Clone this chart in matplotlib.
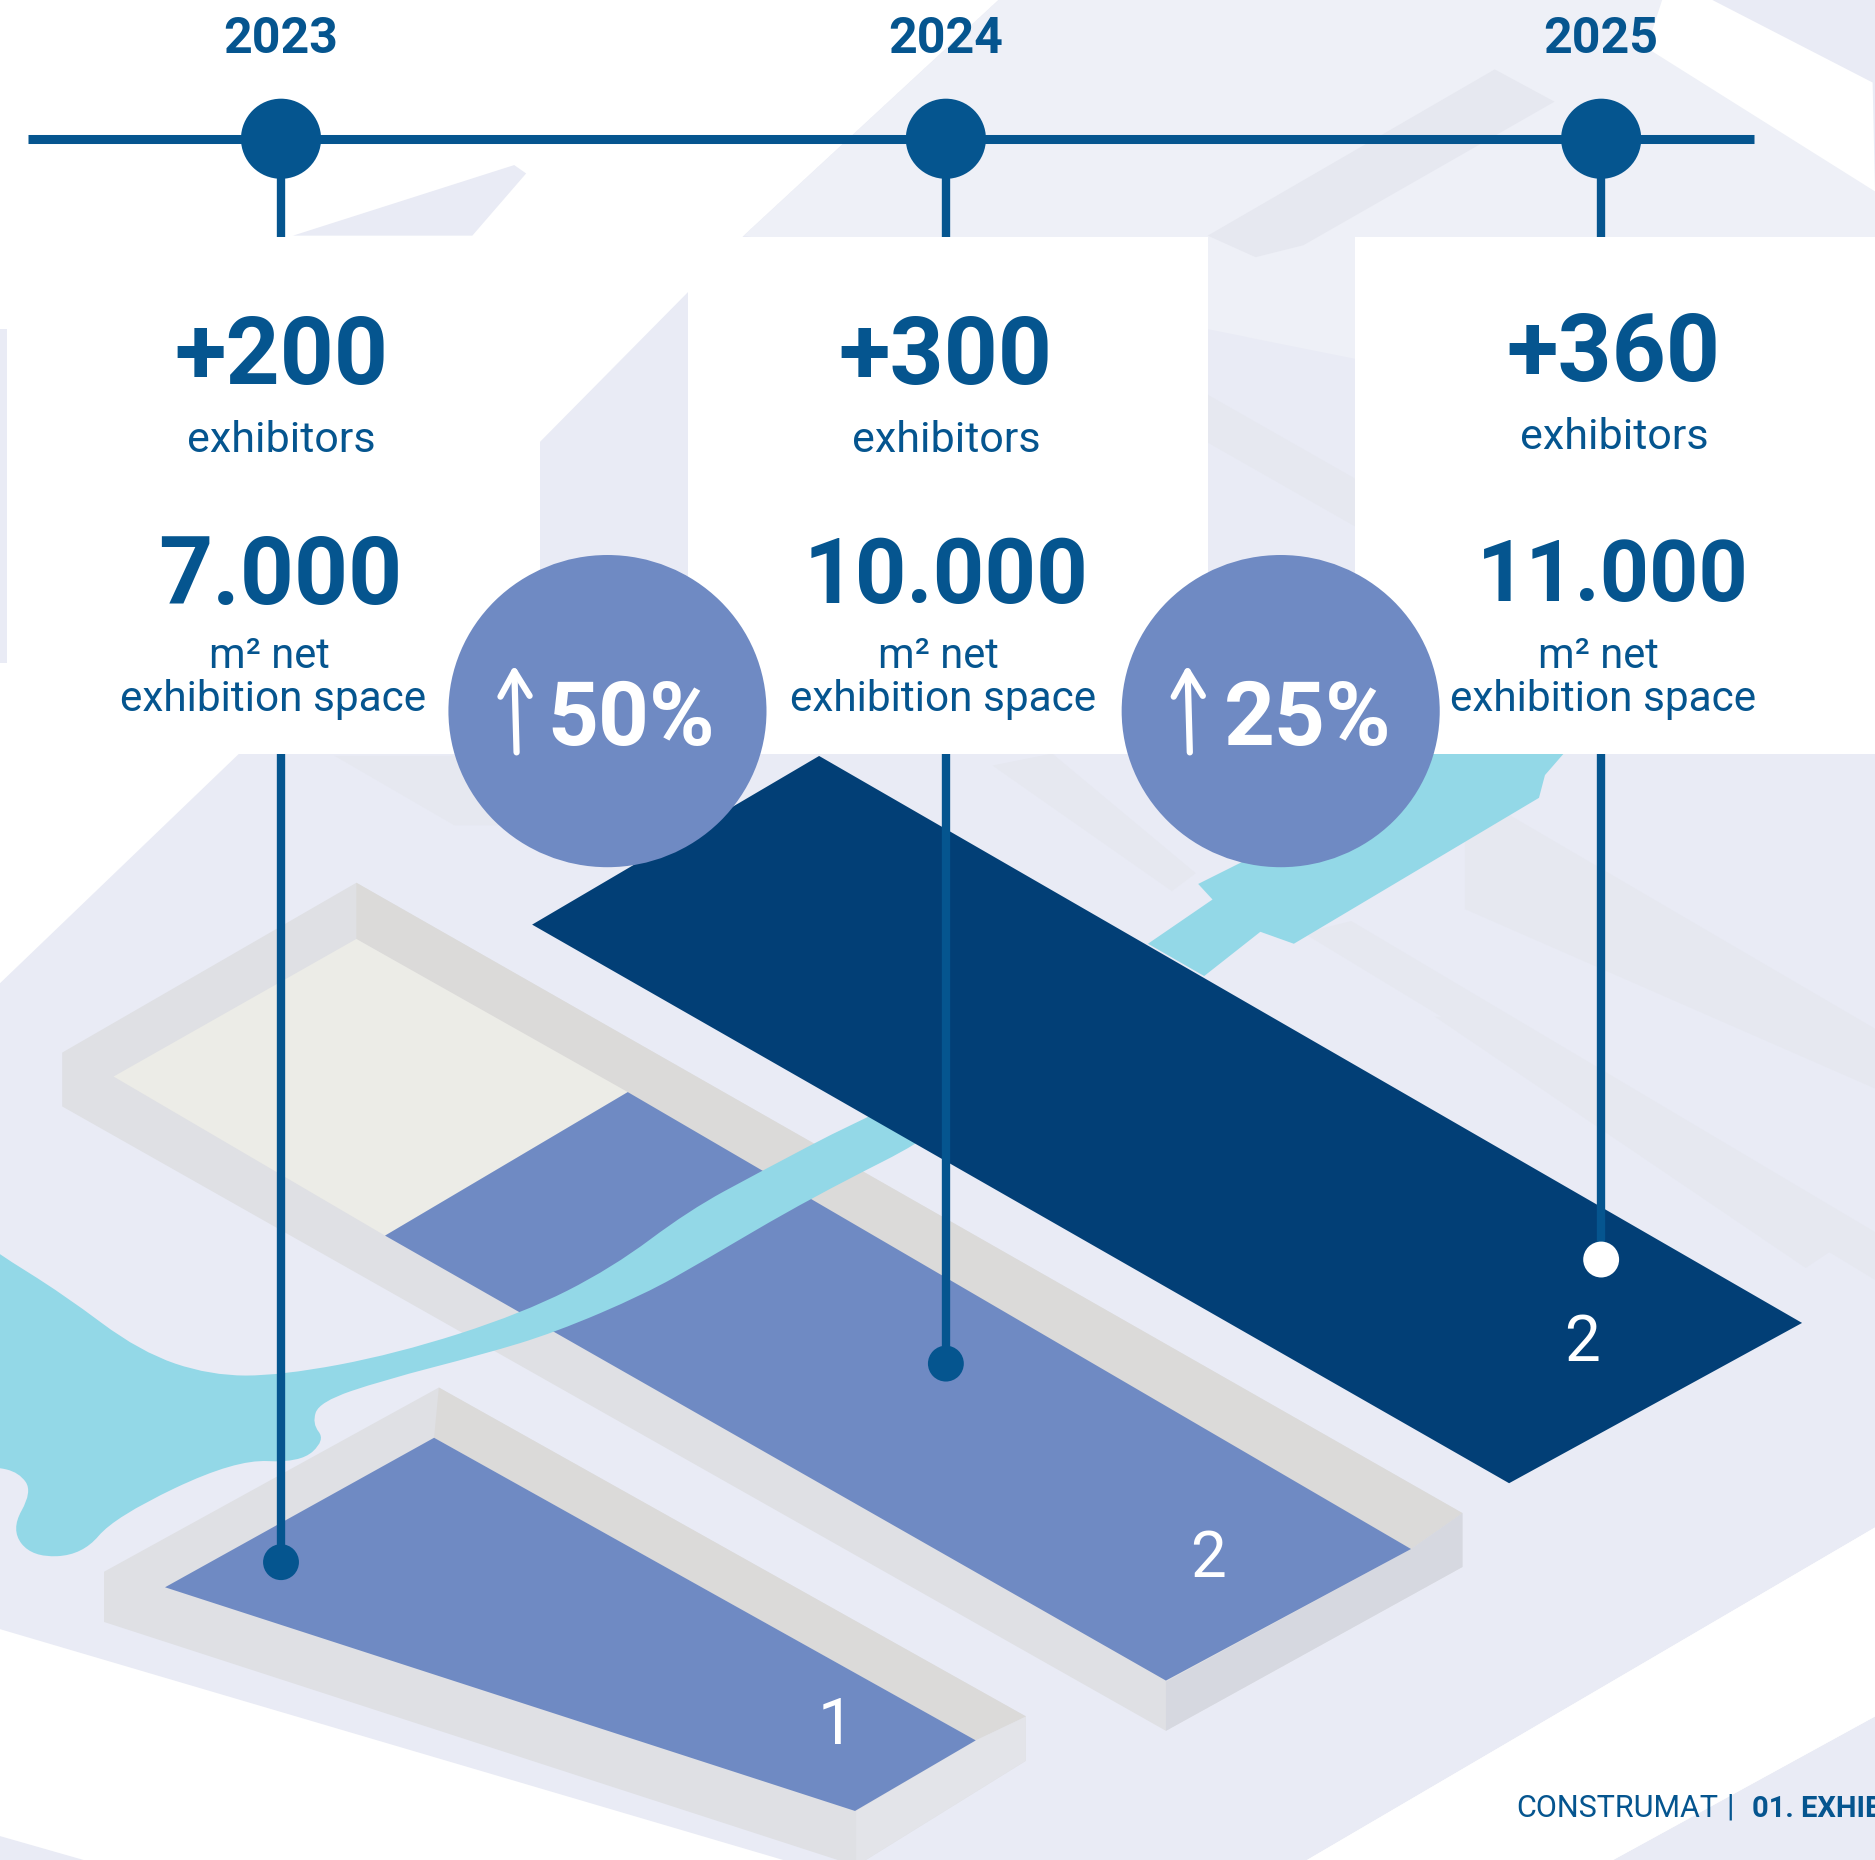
import matplotlib
matplotlib.use("Agg")
import matplotlib.pyplot as plt
from matplotlib.patches import Polygon, Circle, Ellipse, PathPatch
from matplotlib.path import Path

plt.rcParams['font.family'] = ['Roboto', 'DejaVu Sans']

# values
years = ["2023", "2024", "2025"]
exhibitors = ["+200", "+300", "+360"]
space = ["7.000", "10.000", "11.000"]
growth = ["50%", "25%"]
hall_labels = ["1", "2", "2"]

# colours
BLUE = "#05558F"
NAVY = "#023F76"
MID = "#6F8AC3"
LAV = "#E9EBF5"
WATER = "#93D8E7"

# layout, in the 1568 wide drawing space
year_x = [235, 791, 1339]
dot_y = [1306, 1140, 1053]
dot_col = [BLUE, BLUE, "white"]
num_x = [235, 791, 1349]
num_y = [299, 299, 297]
exh_x = [235, 791, 1350]
exh_y = [368, 368, 366]
space_x = [234, 791, 1349]
space_size = [68, 65, 62]
m2_x = [225, 785, 1337]
label_x = [228, 789, 1341]
card_x = [(0, 452), (575, 1010), (1133, 1568)]
circle_x = [508, 1071]
pct_x = [528, 1094]
label_pos = [(699, 1443), (1010, 1303), (1323, 1123)]

fig = plt.figure(figsize=(18.75, 18.6), dpi=100, facecolor="white")
ax = fig.add_axes([0, 0, 1, 1])
ax.set_xlim(0, 1568)
ax.set_ylim(1555, 0)
ax.axis("off")


def poly(pts, col, z=1, **kw):
    ax.add_patch(Polygon(pts, closed=True, fc=col, ec="none", zorder=z, **kw))


def smooth(pts, col, z):
    # quadratic curves through the midpoints of the outline
    mids = [((pts[i][0] + pts[(i + 1) % len(pts)][0]) / 2, (pts[i][1] + pts[(i + 1) % len(pts)][1]) / 2) for i in range(len(pts))]
    verts = [mids[-1]]
    codes = [Path.MOVETO]
    for i in range(len(pts)):
        verts += [pts[i], mids[i]]
        codes += [Path.CURVE3, Path.CURVE3]
    ax.add_patch(PathPatch(Path(verts, codes), fc=col, ec="none", zorder=z))


# map background
poly([(835, 0), (1568, 0), (1568, 1277), (1093, 1555), (655, 1555), (0, 1362), (0, 822), (200, 630), (450, 371), (622, 197)], LAV)
poly([(1349, 1555), (1568, 1435), (1568, 1555)], LAV)
poly([(0, 1535), (70, 1555), (0, 1555)], LAV)
poly([(245, 197), (430, 138), (440, 145), (395, 197)], LAV)
poly([(835, 0), (1400, 0), (1568, 160), (1568, 300), (1133, 300), (622, 197)], "#EEF0F7", z=1.05)
poly([(1390, 0), (1432, 0), (1566, 69), (1568, 160), (1377, 40)], "white", z=1.1)
poly([(1093, 1555), (1568, 1277), (1568, 1435), (1349, 1555)], "white", z=1.1)

# faint buildings behind
ghosts = [
    [(1010, 197), (1250, 58), (1300, 85), (1090, 205), (1050, 215)],
    [(1225, 700), (1260, 680), (1568, 860), (1568, 910), (1225, 760)],
    [(1090, 780), (1130, 770), (1568, 1030), (1568, 1070)],
    [(1200, 850), (1240, 850), (1540, 1040), (1510, 1060)],
    [(830, 640), (880, 630), (1000, 730), (980, 745)],
    [(280, 632), (420, 632), (480, 690), (380, 690)],
    [(1010, 330), (1133, 400), (1133, 440), (1010, 370)],
]
for g in ghosts:
    poly(g, "#E6E8F0", z=1.2)

# big hall
poly([(298, 738), (52, 880), (52, 925), (975, 1447), (1223, 1310), (1223, 1265)], "#DFE0E4", z=2)
poly([(298, 738), (298, 785), (1180, 1295), (1223, 1265)], "#DBDAD9", z=2.05)
poly([(975, 1406), (975, 1447), (1223, 1310), (1223, 1265), (1180, 1295)], "#D6D8E0", z=2.1)
poly([(298, 785), (95, 900), (322, 1033), (525, 913)], "#ECECE7", z=2.2)
poly([(525, 913), (322, 1033), (975, 1405), (1180, 1295)], MID, z=2.2)

# small hall
poly([(367, 1160), (87, 1314), (87, 1356), (716, 1560), (858, 1472), (858, 1435)], "#DFE0E4", z=2)
poly([(367, 1160), (363, 1202), (816, 1455), (858, 1435)], "#DBDAD9", z=2.05)
poly([(716, 1514), (716, 1560), (858, 1472), (858, 1435), (816, 1455)], "#E3E4E9", z=2.1)
poly([(363, 1202), (138, 1327), (715, 1514), (816, 1455)], MID, z=2.2)

# water
water_low = [(-40, 1020), (-5, 1046), (53, 1082), (117, 1130), (176, 1150), (235, 1150), (331, 1132), (437, 1098), (512, 1060), (576, 1012),
             (635, 980), (715, 938), (800, 900), (800, 940), (677, 1002), (587, 1055), (539, 1082), (464, 1114), (405, 1132),
             (320, 1154), (267, 1172), (261, 1190), (272, 1204), (251, 1223), (197, 1220), (96, 1268), (69, 1300), (27, 1302),
             (9, 1279), (27, 1247), (16, 1231), (-5, 1226), (-40, 1226)]
smooth(water_low, WATER, 3)
water_up = [(1312, 625), (1292, 648), (1287, 667), (1082, 789), (1054, 779), (1007, 816), (960, 789), (1014, 752), (1002, 739), (1100, 690), (1207, 625)]
poly(water_up, WATER, z=3)

# third hall
poly([(685, 632), (445, 773), (1262, 1240), (1507, 1106)], NAVY, z=4)

# cards
for x0, x1 in card_x:
    poly([(x0, 198), (x1, 198), (x1, 630), (x0, 630)], "white", z=5)
poly([(0, 275), (6, 275), (6, 554), (0, 554)], LAV, z=5.1)

# timeline
ax.plot([23, 1467], [116, 116], color=BLUE, lw=6.5, solid_capstyle="butt", zorder=6)
for i in range(3):
    ax.add_patch(Circle((year_x[i], 116), 33.5, fc=BLUE, ec="none", zorder=7))
    ax.plot([year_x[i], year_x[i]], [116, 198], color=BLUE, lw=6, solid_capstyle="butt", zorder=6)
    ax.plot([year_x[i], year_x[i]], [630, dot_y[i]], color=BLUE, lw=6, solid_capstyle="butt", zorder=6)
    ax.add_patch(Circle((year_x[i], dot_y[i]), 15, fc=dot_col[i], ec="none", zorder=7))
    ax.text(year_x[i], 33, years[i], color=BLUE, fontsize=36, fontweight="bold", ha="center", va="center", zorder=8)
    ax.text(num_x[i], num_y[i], exhibitors[i], color=BLUE, fontsize=68, fontweight="bold", ha="center", va="center", zorder=8)
    ax.text(exh_x[i], exh_y[i], "exhibitors", color=BLUE, fontsize=31, ha="center", va="center", zorder=8)
    ax.text(space_x[i], 483, space[i], color=BLUE, fontsize=space_size[i], fontweight="bold", ha="center", va="center", zorder=8)
    ax.text(m2_x[i], 549, "m² net", color=BLUE, fontsize=30, ha="center", va="center", zorder=8)
    ax.text(label_x[i], 585, "exhibition space", color=BLUE, fontsize=30.5, ha="center", va="center", zorder=8)
    ax.text(label_pos[i][0], label_pos[i][1], hall_labels[i], color="white", fontsize=46, ha="center", va="center", zorder=8)

# growth circles
for i in range(2):
    cx = circle_x[i]
    ax.add_patch(Ellipse((cx, 594.5), 266, 261, fc=MID, ec="none", zorder=9))
    ax.annotate("", xy=(cx - 78, 556), xytext=(cx - 76, 629), zorder=10,
                arrowprops=dict(arrowstyle="->,head_width=0.35,head_length=0.6", mutation_scale=30, color="white", lw=4.5, shrinkA=0, shrinkB=0))
    ax.text(pct_x[i], 602, growth[i], color="white", fontsize=64, fontweight="bold", ha="center", va="center", zorder=10)

# footer
ax.text(1268, 1512, "CONSTRUMAT", color=BLUE, fontsize=22, ha="left", va="center", zorder=8)
ax.text(1447, 1511, "|", color=BLUE, fontsize=22, ha="center", va="center", zorder=8)
ax.text(1465, 1512, "01. EXHIB", color=BLUE, fontsize=21, fontweight="bold", ha="left", va="center", zorder=8)

fig.savefig("out.png", dpi=100)
